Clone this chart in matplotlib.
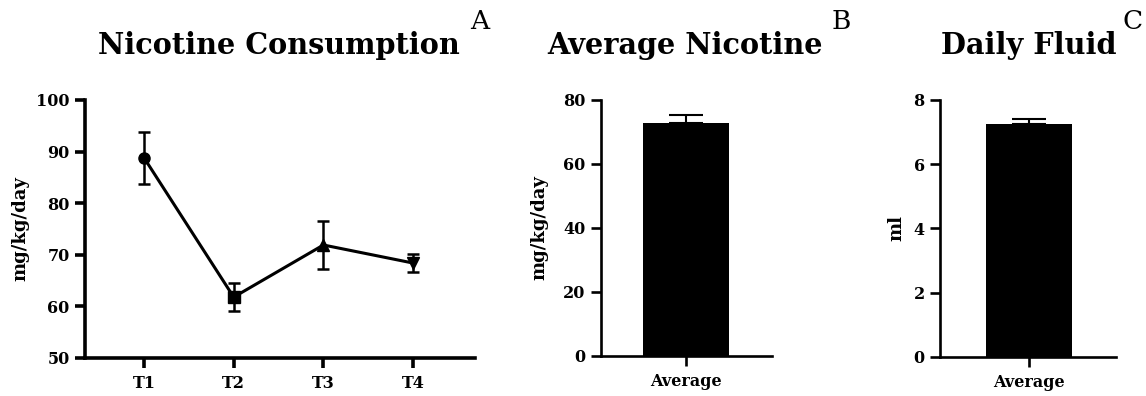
import matplotlib
matplotlib.use("Agg")
import matplotlib.pyplot as plt

# panel A: nicotine consumption over time
time_labels = ["T1", "T2", "T3", "T4"]
time_means = [88.8, 61.8, 71.9, 68.4]
time_errs = [5.0, 2.7, 4.6, 1.8]
time_markers = ["o", "s", "^", "v"]

# panel B: average nicotine
avg_nic_label = ["Average"]
avg_nic_mean = [72.7]
avg_nic_err = [2.7]

# panel C: daily fluid
fluid_label = ["Average"]
fluid_mean = [7.24]
fluid_err = [0.18]

W, H = 1146.0, 396.0
plt.rcParams["font.family"] = ["DejaVu Serif"]
plt.rcParams["font.weight"] = "bold"


def style_axes(ax, lw):
	for s in ["top", "right"]:
		ax.spines[s].set_visible(False)
	for s in ["left", "bottom"]:
		ax.spines[s].set_linewidth(lw)
	ax.tick_params(width=lw, length=7.5, labelsize=11.5)
	ax.tick_params(axis="x", pad=5)
	for lab in ax.get_xticklabels() + ax.get_yticklabels():
		lab.set_fontweight("bold")


def put_ylabel(ax, text, xpix, left, width):
	ax.text((xpix - left) / width, 0.5, text, rotation=90, transform=ax.transAxes,
		ha="center", va="center", fontsize=13, fontweight="bold")


def put_title(fig, text, xc, letter, xl):
	fig.text(xc / W, 1 - 54 / H, text, ha="center", va="baseline",
		fontsize=20.7, fontweight="bold")
	fig.text(xl / W, 1 - 29 / H, letter, ha="left", va="baseline",
		fontsize=19, fontweight="normal")


def main():
	fig = plt.figure(figsize=(11.46, 3.96), dpi=100)

	# A
	ax = fig.add_axes([85 / W, 38 / H, 390 / W, 258 / H])
	x = list(range(1, len(time_labels) + 1))
	ax.plot(x, time_means, color="black", lw=2.2)
	for xi, m, e, mk in zip(x, time_means, time_errs, time_markers):
		ax.errorbar(xi, m, yerr=e, fmt=mk, color="black", ms=8,
			capsize=4, elinewidth=1.8, capthick=1.8)
	ax.set_xlim(0.342, 4.69)
	ax.set_ylim(50, 100)
	ax.set_yticks([50, 60, 70, 80, 90, 100])
	ax.set_xticks(x)
	ax.set_xticklabels(time_labels)
	style_axes(ax, 2.6)
	put_ylabel(ax, "mg/kg/day", 20, 85, 390)
	put_title(fig, "Nicotine Consumption", 279, "A", 470)

	# B
	ax = fig.add_axes([600.5 / W, 40 / H, 171.5 / W, 256 / H])
	ax.bar([0], avg_nic_mean, width=0.5, color="black")
	ax.errorbar([0], avg_nic_mean, yerr=[[0], avg_nic_err], fmt="none",
		ecolor="black", capsize=12, elinewidth=1.5, capthick=1.5)
	ax.set_xlim(-0.5, 0.5)
	ax.set_ylim(0, 80)
	ax.set_yticks([0, 20, 40, 60, 80])
	ax.set_xticks([0])
	ax.set_xticklabels(avg_nic_label)
	style_axes(ax, 1.9)
	put_ylabel(ax, "mg/kg/day", 539, 600.5, 171.5)
	put_title(fig, "Average Nicotine", 685, "B", 832)

	# C
	ax = fig.add_axes([940 / W, 39.3 / H, 176 / W, 256.7 / H])
	ax.bar([0], fluid_mean, width=0.5, color="black")
	ax.errorbar([0], fluid_mean, yerr=[[0], fluid_err], fmt="none",
		ecolor="black", capsize=12, elinewidth=1.5, capthick=1.5)
	ax.set_xlim(-0.517, 0.506)
	ax.set_ylim(0, 8)
	ax.set_yticks([0, 2, 4, 6, 8])
	ax.set_xticks([0])
	ax.set_xticklabels(fluid_label)
	style_axes(ax, 1.9)
	put_ylabel(ax, "ml", 896, 940, 176)
	put_title(fig, "Daily Fluid", 1029, "C", 1122)

	plt.savefig("out.png", dpi=100)


if __name__ == "__main__":
	main()
